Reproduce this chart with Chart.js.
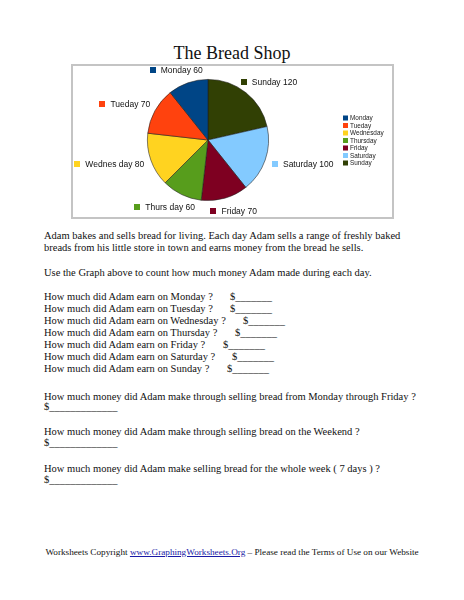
<!DOCTYPE html>
<html>
<head>
<meta charset="utf-8">
<script src="https://cdn.jsdelivr.net/npm/chart.js@4"></script>
<style>
  body { margin: 0; background: #fff; }
  #page { position: relative; width: 464px; height: 600px; font-family: "Liberation Serif", "Times New Roman", serif; color: #111; }
  .t { position: absolute; left: 44px; font-size: 10.5px; line-height: 12px; white-space: pre; }
  .d { position: absolute; font-size: 10.5px; line-height: 12px; white-space: pre; }
  #title { position: absolute; left: 0; width: 464px; top: 42px; text-align: center; font-size: 18px; line-height: 22px; }
  #frame { position: absolute; left: 71px; top: 64px; width: 319px; height: 151px; border: 2px solid #c4c4c4; }
  #chart { position: absolute; left: 71px; top: 64px; }
  #foot { position: absolute; left: 0; width: 464px; top: 546px; text-align: center; font-size: 9.2px; line-height: 12px; white-space: pre; }
  #foot a { color: #1a1aa6; text-decoration: underline; }
</style>
</head>
<body>
<div id="page">
  <div id="title">The Bread Shop</div>
  <div id="frame"></div>
  <canvas id="chart" width="323" height="155"></canvas>

  <div class="t" style="top:230px">Adam bakes and sells bread for living. Each day Adam sells a range of freshly baked</div>
  <div class="t" style="top:242px">breads from his little store in town and earns money from the bread he sells.</div>
  <div class="t" style="top:267px">Use the Graph above to count how much money Adam made during each day.</div>

  <div class="t" style="top:291px">How much did Adam earn on Monday ?</div>
  <div class="d" style="top:291px;left:230px">$_______</div>
  <div class="t" style="top:303px">How much did Adam earn on Tuesday ?</div>
  <div class="d" style="top:303px;left:230px">$_______</div>
  <div class="t" style="top:315px">How much did Adam earn on Wednesday ?</div>
  <div class="d" style="top:315px;left:243px">$_______</div>
  <div class="t" style="top:327px">How much did Adam earn on Thursday ?</div>
  <div class="d" style="top:327px;left:235px">$_______</div>
  <div class="t" style="top:339px">How much did Adam earn on Friday ?</div>
  <div class="d" style="top:339px;left:223px">$_______</div>
  <div class="t" style="top:351px">How much did Adam earn on Saturday ?</div>
  <div class="d" style="top:351px;left:232px">$_______</div>
  <div class="t" style="top:363px">How much did Adam earn on Sunday ?</div>
  <div class="d" style="top:363px;left:227px">$_______</div>

  <div class="t" style="top:391px">How much money did Adam make through selling bread from Monday through Friday ?</div>
  <div class="t" style="top:401px">$_____________</div>
  <div class="t" style="top:426px">How much money did Adam make through selling bread on the Weekend ?</div>
  <div class="t" style="top:437px">$_____________</div>
  <div class="t" style="top:463px">How much money did Adam make selling bread for the whole week ( 7 days ) ?</div>
  <div class="t" style="top:474px">$_____________</div>

  <div id="foot">Worksheets Copyright <a href="#">www.GraphingWorksheets.Org</a> – Please read the Terms of Use on our Website</div>
</div>

<script>
// chart data
var days = ['Monday', 'Tueday', 'Wednesday', 'Thursday', 'Friday', 'Saturday', 'Sunday'];
var labelNames = ['Monday', 'Tueday', 'Wednes day', 'Thurs day', 'Friday', 'Saturday', 'Sunday'];
var legendNames = ['Monday', 'Tueday', 'Wednesday', 'Thursday', 'Friday', 'Saturday', 'Sunday'];
var sales = [60, 70, 80, 60, 70, 100, 120];
var colors = ['#004586', '#ff420e', '#ffd320', '#579d1c', '#7e0021', '#83caff', '#314004'];

// the original runs counter-clockwise from the top, chart.js goes clockwise,
// so feed the slices in reverse
var order = days.map(function (d, i) { return i; }).reverse();

var sliceLabels = {
    id: 'sliceLabels',
    afterDatasetsDraw: function (chart) {
        var ctx = chart.ctx;
        var meta = chart.getDatasetMeta(0);
        ctx.save();
        ctx.font = '8.5px "Liberation Sans", Arial, sans-serif';
        ctx.textBaseline = 'middle';
        meta.data.forEach(function (arc, j) {
            var i = order[j];
            var p = arc.getProps(['x', 'y', 'startAngle', 'endAngle', 'outerRadius'], true);
            var mid = (p.startAngle + p.endAngle) / 2;
            var ux = Math.cos(mid), uy = Math.sin(mid);
            var txt = labelNames[i] + ' ' + sales[i];
            var box = 6, gap = 5;
            var w = box + gap + ctx.measureText(txt).width, h = 9;
            var r = p.outerRadius + 9;
            var cx = p.x + r * ux + w / 2 * ux;
            var cy = p.y + r * uy + h / 2 * uy;
            var left = cx - w / 2;
            ctx.fillStyle = colors[i];
            ctx.fillRect(Math.round(left), Math.round(cy - box / 2), box, box);
            ctx.fillStyle = '#111';
            ctx.textAlign = 'left';
            ctx.fillText(txt, left + box + gap, cy + 0.5);
        });

        // legend on the right
        ctx.font = '6.4px "Liberation Sans", Arial, sans-serif';
        legendNames.forEach(function (name, i) {
            var y = 54 + i * 7.5;
            ctx.fillStyle = colors[i];
            ctx.fillRect(272, y - 2.5, 5, 5);
            ctx.fillStyle = '#222';
            ctx.fillText(name, 279, y + 0.3);
        });
        ctx.restore();
    }
};

var ctx = document.getElementById('chart').getContext('2d');
var chart = new Chart(ctx, {
    type: 'pie',
    data: {
        labels: order.map(function (i) { return days[i]; }),
        datasets: [{
            data: order.map(function (i) { return sales[i]; }),
            backgroundColor: order.map(function (i) { return colors[i]; }),
            borderColor: 'rgba(30,30,30,0.7)',
            borderWidth: 0.8
        }]
    },
    options: {
        responsive: false,
        animation: false,
        layout: { padding: { top: 15, bottom: 18, left: 76, right: 125 } },
        plugins: {
            legend: { display: false },
            tooltip: { enabled: false }
        }
    },
    plugins: [sliceLabels]
});
</script>
</body>
</html>
